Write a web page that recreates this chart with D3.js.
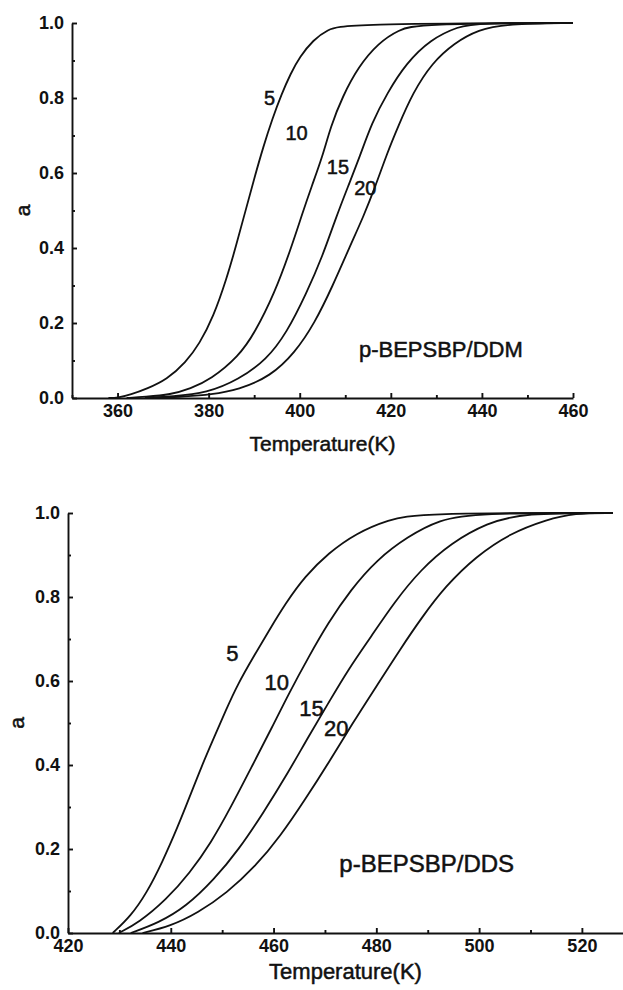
<!DOCTYPE html>
<html>
<head>
<meta charset="utf-8">
<script src="https://cdn.jsdelivr.net/npm/d3@7"></script>
<style>
  body { margin: 0; background: #fff; }
  svg { display: block; }
  .axis path, .axis line { stroke: #111; stroke-width: 1.9; }
  .axis text { font-family: "Liberation Sans", Arial, sans-serif; font-weight: bold; fill: #111; }
  .curve { fill: none; stroke: #111; stroke-width: 1.8; }
  .lbl { font-family: "Liberation Sans", Arial, sans-serif; fill: #111; stroke: #111; stroke-width: 0.5; }
</style>
</head>
<body>
<svg id="chart"></svg>
<script>
// heating rates (K/min) used as curve labels
var rates = ["5", "10", "15", "20"];

// p-BEPSBP/DDM : [temperature K, conversion a]
var ddm5 = [[358,0],[360,0],[362.9,0.009],[366.5,0.025],[370.8,0.049],[375,0.095],[378,0.145],[381,0.215],[384,0.32],[386,0.405],[388,0.495],[390,0.585],[392,0.67],[394,0.745],[396,0.81],[398,0.865],[400,0.91],[403,0.955],[406,0.982],[410,0.998],[460,1]];
var ddm10 = [[362,0],[366,0.003],[371.7,0.009],[376,0.025],[380.4,0.049],[386.6,0.111],[390.1,0.173],[394.5,0.28],[398.0,0.396],[400.6,0.493],[402.6,0.564],[405.0,0.644],[406.8,0.724],[409.4,0.804],[412.9,0.884],[417.3,0.947],[421.7,0.982],[426.1,0.998],[460,1]];
var ddm15 = [[366,0],[372,0.004],[379.6,0.013],[386.6,0.049],[392.7,0.102],[397.1,0.173],[401.5,0.28],[405.0,0.378],[407.8,0.476],[410.6,0.564],[413.2,0.644],[415.8,0.733],[419.2,0.813],[423.4,0.893],[428.7,0.956],[434.8,0.991],[439.2,1],[460,1]];
var ddm20 = [[368,0],[375,0.004],[380.4,0.009],[386.6,0.022],[393.6,0.058],[398.9,0.12],[403.3,0.2],[407.2,0.298],[411.0,0.404],[414.0,0.484],[416.6,0.564],[419.2,0.653],[421.6,0.724],[424.8,0.813],[429.0,0.893],[434.0,0.947],[439.2,0.982],[445.4,0.998],[460,1]];

// p-BEPSBP/DDS : [temperature K, conversion a]
var dds5 = [[428.7,0],[432.2,0.04],[435.3,0.095],[438.3,0.167],[441.4,0.254],[443.7,0.325],[446.0,0.397],[448.4,0.465],[450.7,0.53],[453.0,0.592],[456.3,0.662],[459.3,0.724],[462.4,0.786],[466.1,0.849],[470.7,0.905],[476.1,0.952],[482.3,0.984],[488.4,1],[526,1]];
var dds10 = [[429.9,0],[433.7,0.024],[439.1,0.079],[443.7,0.143],[447.8,0.214],[451.8,0.302],[455.8,0.397],[459.8,0.492],[463.0,0.571],[466.9,0.659],[470.6,0.738],[475.0,0.817],[480.1,0.889],[486.1,0.944],[492.3,0.984],[499.2,1],[526,1]];
var dds15 = [[432.2,0],[437.6,0.024],[443.0,0.063],[448.4,0.127],[453.2,0.198],[458.0,0.286],[462.8,0.381],[466.8,0.468],[470.7,0.548],[474.5,0.627],[479.0,0.706],[483.4,0.786],[488.6,0.865],[494.6,0.929],[501.5,0.976],[508.5,1],[526,1]];
var dds20 = [[434.5,0],[439.9,0.016],[445.3,0.048],[450.9,0.095],[456.5,0.159],[461.3,0.23],[466.1,0.317],[470.7,0.405],[475.4,0.5],[480.0,0.587],[484.6,0.675],[489.0,0.754],[493.4,0.825],[499.4,0.897],[506.1,0.952],[513.1,0.984],[518.5,1],[526,1]];

// axis ticks
var ddmTicks = [360, 380, 400, 420, 440, 460];
var ddsTicks = [420, 440, 460, 480, 500, 520];
var aTicks = [0, 0.2, 0.4, 0.6, 0.8, 1.0];

var svg = d3.select("#chart")
  .attr("width", 623)
  .attr("height", 990);

svg.append("rect").attr("width", 623).attr("height", 990).attr("fill", "#fff");

function drawPanel(opt) {
  var x = d3.scaleLinear().domain(opt.xDomain).range([opt.left, opt.right]);
  var y = d3.scaleLinear().domain([0, 1]).range([opt.bottom, opt.top]);

  var g = svg.append("g");

  // minor ticks
  var xMinor = d3.range(opt.xDomain[0], opt.xDomain[1] + 0.1, 10).filter(function(d) { return opt.xTicks.indexOf(d) < 0; });
  g.append("g")
    .attr("class", "axis")
    .attr("transform", "translate(0," + opt.bottom + ")")
    .call(d3.axisBottom(x).tickValues(xMinor).tickSize(-3).tickFormat(""))
    .call(function(s) { s.select(".domain").remove(); });
  g.append("g")
    .attr("class", "axis")
    .attr("transform", "translate(" + opt.left + ",0)")
    .call(d3.axisLeft(y).tickValues([0.1, 0.3, 0.5, 0.7, 0.9]).tickSize(-3).tickFormat(""))
    .call(function(s) { s.select(".domain").remove(); });

  var xAxis = g.append("g")
    .attr("class", "axis")
    .attr("transform", "translate(0," + opt.bottom + ")")
    .call(d3.axisBottom(x).tickValues(opt.xTicks).tickSizeInner(-5).tickSizeOuter(0).tickPadding(6));
  xAxis.selectAll("text").attr("font-size", opt.tickFont);

  var yAxis = g.append("g")
    .attr("class", "axis")
    .attr("transform", "translate(" + opt.left + ",0)")
    .call(d3.axisLeft(y).tickValues(aTicks).tickSizeInner(-5).tickSizeOuter(0).tickPadding(8).tickFormat(d3.format(".1f")));
  yAxis.selectAll("text").attr("font-size", opt.tickFont);

  var line = d3.line()
    .x(function(d) { return x(d[0]); })
    .y(function(d) { return y(d[1]); })
    .curve(d3.curveBasis);

  g.selectAll("path.curve")
    .data(opt.series)
    .enter().append("path")
      .attr("class", "curve")
      .attr("d", line);

  // curve labels
  g.selectAll("text.rate")
    .data(rates)
    .enter().append("text")
      .attr("class", "rate lbl")
      .attr("x", function(d, i) { return x(opt.labelPos[i][0]); })
      .attr("y", function(d, i) { return y(opt.labelPos[i][1]); })
      .attr("text-anchor", "middle")
      .attr("dy", "0.36em")
      .attr("font-size", opt.labelFont)
      .text(function(d) { return d; });

  g.append("text")
    .attr("class", "lbl")
    .attr("x", x(opt.nameAt[0]))
    .attr("y", y(opt.nameAt[1]))
    .attr("dy", "0.36em")
    .attr("font-size", opt.nameFont)
    .text(opt.name);

  g.append("text")
    .attr("class", "lbl")
    .attr("x", (opt.left + opt.right) / 2)
    .attr("y", opt.titleY)
    .attr("text-anchor", "middle")
    .attr("dy", "0.36em")
    .attr("font-size", opt.titleFont)
    .text("Temperature(K)");

  g.append("text")
    .attr("class", "lbl")
    .attr("transform", "translate(" + opt.aX + "," + (opt.top + opt.bottom) / 2 + ") rotate(-90)")
    .attr("text-anchor", "middle")
    .attr("dy", "0.36em")
    .attr("font-size", 21)
    .text("a");
}

drawPanel({
  xDomain: [350, 460], xTicks: ddmTicks,
  left: 72, right: 573, top: 23, bottom: 398,
  series: [ddm5, ddm10, ddm15, ddm20],
  labelPos: [[393.4, 0.8], [399.3, 0.708], [408.4, 0.616], [414.4, 0.56]],
  nameAt: [413, 0.13], name: "p-BEPSBP/DDM",
  titleY: 443, tickFont: 18, labelFont: 20, nameFont: 22, titleFont: 21, aX: 22
});

drawPanel({
  xDomain: [420, 528], xTicks: ddsTicks,
  left: 68, right: 623, top: 513, bottom: 933,
  series: [dds5, dds10, dds15, dds20],
  labelPos: [[452.0, 0.667], [460.6, 0.598], [467.4, 0.536], [472.2, 0.488]],
  nameAt: [472.8, 0.167], name: "p-BEPSBP/DDS",
  titleY: 971, tickFont: 18, labelFont: 22, nameFont: 24, titleFont: 22, aX: 16
});
</script>
</body>
</html>
